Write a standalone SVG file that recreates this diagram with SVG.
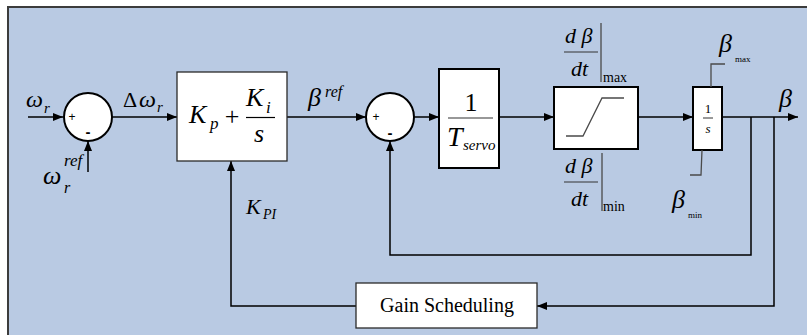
<svg xmlns="http://www.w3.org/2000/svg" width="807" height="335" viewBox="0 0 807 335">
  <style>
    .bg { fill: #b9cae3; stroke: #3c3c3c; stroke-width: 2; }
    .wire { fill: none; stroke: #000; stroke-width: 1.5; }
    .blk { fill: #fff; stroke: #000; stroke-width: 2; }
    .thin { fill: #fff; stroke: #2a2a2a; stroke-width: 1.3; }
    .sum { fill: #fff; stroke: #000; stroke-width: 2; }
    .gray { fill: none; stroke: #4a4a4a; stroke-width: 1.3; }
    .m { font-family: "Liberation Serif", "Times New Roman", serif; font-style: italic; fill: #000; }
    .r { font-family: "Liberation Serif", "Times New Roman", serif; fill: #000; }
    .s { font-family: "Liberation Sans", Arial, sans-serif; fill: #000; }
  </style>
  <defs>
    <marker id="arr" markerUnits="userSpaceOnUse" markerWidth="10" markerHeight="8" refX="10" refY="4" orient="auto">
      <path d="M0,0 L10,4 L0,8 z" fill="#000"/>
    </marker>
  </defs>

  <!-- panel background -->
  <rect class="bg" x="8" y="7" width="830" height="360"/>

  <!-- connectors -->
  <g id="connectors">
    <line class="wire" x1="28" y1="117" x2="63" y2="117" marker-end="url(#arr)"/>
    <line class="wire" x1="88" y1="172" x2="88" y2="141" marker-end="url(#arr)"/>
    <line class="wire" x1="112" y1="117" x2="177" y2="117" marker-end="url(#arr)"/>
    <line class="wire" x1="287" y1="117" x2="366" y2="117" marker-end="url(#arr)"/>
    <line class="wire" x1="414" y1="117" x2="439" y2="117" marker-end="url(#arr)"/>
    <line class="wire" x1="499" y1="117" x2="554" y2="117" marker-end="url(#arr)"/>
    <line class="wire" x1="638" y1="117" x2="693" y2="117" marker-end="url(#arr)"/>
    <line class="wire" x1="722" y1="117" x2="798" y2="117" marker-end="url(#arr)"/>
    <polyline class="wire" points="751,117 751,255 390,255 390,141" marker-end="url(#arr)"/>
    <polyline class="wire" points="774,117 774,306 537,306" marker-end="url(#arr)"/>
    <polyline class="wire" points="356,306 231,306 231,161" marker-end="url(#arr)"/>
  </g>

  <!-- speed error summing junction -->
  <g id="sum1">
    <circle class="sum" cx="88" cy="117" r="24"/>
    <text class="s" x="72" y="121" font-size="12" text-anchor="middle">+</text>
    <text class="s" x="88" y="137" font-size="15" font-weight="bold" text-anchor="middle">-</text>
    <text class="m" x="26" y="107" font-size="24">ω</text>
    <text class="m" x="44" y="113" font-size="15">r</text>
    <text class="m" x="43" y="184" font-size="26">ω</text>
    <text class="m" x="64" y="166" font-size="17">ref</text>
    <text class="m" x="64" y="193" font-size="16">r</text>
  </g>

  <text class="r" x="123" y="107" font-size="22">Δ</text>
  <text class="m" x="139" y="107" font-size="24">ω</text>
  <text class="m" x="157" y="112" font-size="15">r</text>

  <!-- PI controller -->
  <g id="pi">
    <rect class="thin" x="177" y="72" width="110" height="89"/>
    <text class="m" x="189" y="123" font-size="26">K</text>
    <text class="m" x="210" y="129" font-size="17">p</text>
    <text class="r" x="232" y="125" font-size="26" text-anchor="middle">+</text>
    <text class="m" x="246" y="106" font-size="26">K</text>
    <text class="m" x="266" y="113" font-size="17">i</text>
    <line x1="246" y1="117.5" x2="275" y2="117.5" stroke="#000" stroke-width="1.2"/>
    <text class="m" x="259" y="142" font-size="26" text-anchor="middle">s</text>
  </g>

  <text class="m" x="308" y="106" font-size="26">β</text>
  <text class="m" x="325" y="97" font-size="16">ref</text>

  <text class="m" x="246" y="214" font-size="22">K</text>
  <text class="m" x="263" y="219" font-size="14">PI</text>

  <!-- pitch error summing junction -->
  <g id="sum2">
    <circle class="sum" cx="390" cy="117" r="24"/>
    <text class="s" x="376" y="121" font-size="12" text-anchor="middle">+</text>
    <text class="s" x="390" y="138" font-size="15" font-weight="bold" text-anchor="middle">-</text>
  </g>

  <!-- servo gain -->
  <g id="servo">
    <rect class="blk" x="439" y="69" width="60" height="99"/>
    <text class="r" x="471" y="111" font-size="26" text-anchor="middle">1</text>
    <line x1="448" y1="118" x2="493" y2="118" stroke="#333" stroke-width="1.2"/>
    <text class="m" x="447" y="146" font-size="28">T</text>
    <text class="m" x="463" y="150" font-size="15">servo</text>
  </g>

  <!-- rate limiter -->
  <g id="rate-limiter">
    <rect class="blk" x="554" y="87" width="84" height="62" stroke-width="2.5"/>
    <polyline class="gray" points="566,136 583,136 602,98 624,98"/>
    <text class="m" x="565" y="43" font-size="22">d β</text>
    <line x1="564" y1="52" x2="598" y2="52" stroke="#333" stroke-width="1"/>
    <text class="m" x="571" y="76" font-size="22">dt</text>
    <line class="gray" x1="601" y1="23" x2="601" y2="82"/>
    <text class="r" x="603" y="82" font-size="14">max</text>
    <text class="m" x="565" y="173" font-size="22">d β</text>
    <line x1="564" y1="182" x2="598" y2="182" stroke="#333" stroke-width="1"/>
    <text class="m" x="571" y="206" font-size="22">dt</text>
    <line class="gray" x1="602" y1="153" x2="602" y2="211"/>
    <text class="r" x="603" y="211" font-size="14">min</text>
  </g>

  <!-- limited integrator -->
  <g id="integrator">
    <rect class="blk" x="693" y="87" width="29" height="63" stroke-width="2.5"/>
    <text class="r" x="708" y="113" font-size="13" text-anchor="middle">1</text>
    <line x1="703" y1="118" x2="713" y2="118" stroke="#333" stroke-width="1"/>
    <text class="m" x="708" y="133" font-size="13" text-anchor="middle">s</text>
    <polyline class="gray" points="711,87 711,64 725,64"/>
    <polyline class="gray" points="702,150 701,175 690,175"/>
    <text class="m" x="719" y="52" font-size="26">β</text>
    <text class="r" x="735" y="62" font-size="9">max</text>
    <text class="m" x="672" y="208" font-size="26">β</text>
    <text class="r" x="688" y="218" font-size="9">min</text>
  </g>

  <text class="m" x="779" y="107" font-size="26">β</text>

  <!-- gain scheduling -->
  <g id="gain-scheduling">
    <rect class="thin" x="356" y="283" width="181" height="45"/>
    <text class="r" x="447" y="312" font-size="20" text-anchor="middle">Gain Scheduling</text>
  </g>
</svg>
